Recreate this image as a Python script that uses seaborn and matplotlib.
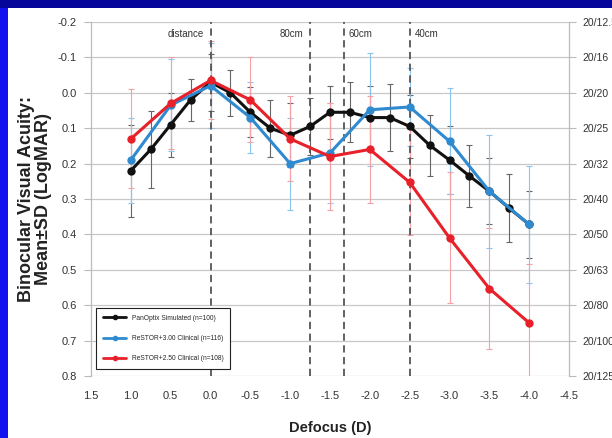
import matplotlib
matplotlib.use("Agg")
import matplotlib.pyplot as plt
import seaborn as sns
import pandas as pd
from matplotlib.patches import Rectangle
from matplotlib.lines import Line2D

# ---------------- data ----------------
black_x = [1.0, 0.75, 0.5, 0.25, 0.0, -0.25, -0.5, -0.75, -1.0, -1.25, -1.5,
           -1.75, -2.0, -2.25, -2.5, -2.75, -3.0, -3.25, -3.5, -3.75, -4.0]
black_y = [0.22, 0.16, 0.09, 0.02, -0.03, 0.00, 0.055, 0.10, 0.12, 0.095, 0.055,
           0.055, 0.07, 0.07, 0.095, 0.148, 0.19, 0.235, 0.278, 0.326, 0.372]
black_sd = [0.13, 0.11, 0.09, 0.06, 0.08, 0.065, 0.07, 0.08, 0.09, 0.08, 0.075,
            0.085, 0.09, 0.095, 0.09, 0.086, 0.095, 0.088, 0.093, 0.096, 0.094]

half_x = [1.0, 0.5, 0.0, -0.5, -1.0, -1.5, -2.0, -2.5, -3.0, -3.5, -4.0]
blue_y = [0.19, 0.035, -0.02, 0.07, 0.20, 0.17, 0.048, 0.04, 0.137, 0.278, 0.372]
blue_sd = [0.12, 0.13, 0.12, 0.10, 0.13, 0.14, 0.16, 0.11, 0.15, 0.16, 0.165]
red_y = [0.13, 0.03, -0.035, 0.02, 0.13, 0.18, 0.16, 0.253, 0.41, 0.553, 0.65]
red_sd = [0.14, 0.13, 0.11, 0.12, 0.12, 0.15, 0.15, 0.15, 0.185, 0.17, 0.165]

series_names = ["PanOptix Simulated (n=100)",
                "ReSTOR+3.00 Clinical (n=116)",
                "ReSTOR+2.50 Clinical (n=108)"]
series_colors = ["#111111", "#2f8ad0", "#e8202a"]
bar_colors = ["#666666", "#8cc4ee", "#f4a0a4"]

x_ticks = [1.5, 1.0, 0.5, 0.0, -0.5, -1.0, -1.5, -2.0, -2.5, -3.0, -3.5, -4.0, -4.5]
y_ticks = [-0.2, -0.1, 0.0, 0.1, 0.2, 0.3, 0.4, 0.5, 0.6, 0.7, 0.8]
snellen = ["20/12.5", "20/16", "20/20", "20/25", "20/32", "20/40", "20/50",
           "20/63", "20/80", "20/100", "20/125"]

ref_x = [0.0, -1.25, -1.67, -2.5]
ref_labels = ["distance", "80cm", "60cm", "40cm"]
ref_align = ["right", "right", "left", "left"]

# ---------------- frame ----------------
df = pd.concat([
    pd.DataFrame({"D": black_x, "VA": black_y, "SD": black_sd, "S": series_names[0]}),
    pd.DataFrame({"D": half_x, "VA": blue_y, "SD": blue_sd, "S": series_names[1]}),
    pd.DataFrame({"D": half_x, "VA": red_y, "SD": red_sd, "S": series_names[2]}),
], ignore_index=True)

sns.set_theme(style="white")
plt.rcParams["font.family"] = ["Liberation Sans", "DejaVu Sans"]
NARROW = ["Liberation Sans Narrow", "Liberation Sans", "DejaVu Sans"]

W, H = 612, 438
fig = plt.figure(figsize=(W / 100, H / 100), dpi=100)
fig.patch.set_facecolor("white")
# slide frame: bright blue left strip, navy top strip
fig.patches.append(Rectangle((0, 0), 8 / W, 1, transform=fig.transFigure,
                             facecolor="#1212f0", edgecolor="none", zorder=-10))
fig.patches.append(Rectangle((0, 1 - 8 / H), 1, 8 / H, transform=fig.transFigure,
                             facecolor="#06069a", edgecolor="none", zorder=-10))

L, R, T, B = 91, 569, 22, 376
ax = fig.add_axes([L / W, 1 - B / H, (R - L) / W, (B - T) / H])
ax.set_facecolor("white")

# error bars
for name, bc in zip(series_names, bar_colors):
    sub = df[df["S"] == name]
    ax.errorbar(sub["D"], sub["VA"], yerr=sub["SD"], fmt="none", ecolor=bc,
                elinewidth=0.8, capsize=2, capthick=0.8, zorder=2)

sns.lineplot(data=df, x="D", y="VA", hue="S", hue_order=series_names,
             palette=series_colors, marker="o", markersize=6, markeredgewidth=0,
             linewidth=2.2, sort=False, legend=False, ax=ax, zorder=4)

# reference lines
for xv in ref_x:
    ax.axvline(xv, color="#555555", linestyle=(0, (4, 2.5)), linewidth=1.3, zorder=3)
for xv, lab, ha in zip(ref_x, ref_labels, ref_align):
    ax.text(xv + (0.08 if ha == "right" else -0.06), -0.165, lab, ha=ha, va="center",
            fontsize=7, color="#333333", family=NARROW)

ax.set_xlim(1.5, -4.5)
ax.set_ylim(0.8, -0.2)
ax.set_xticks(x_ticks)
ax.set_xticklabels([f"{v:.1f}" for v in x_ticks])
ax.set_yticks(y_ticks)
ax.set_yticklabels([f"{v:.1f}" for v in y_ticks])
ax.yaxis.grid(True, color="#c8c8c8", linewidth=0.9)
ax.xaxis.grid(False)
for s in ["top", "bottom"]:
    ax.spines[s].set_visible(False)
for s in ["left", "right"]:
    ax.spines[s].set_color("#bbbbbb")
    ax.spines[s].set_linewidth(0.9)
ax.tick_params(axis="y", which="both", left=True, length=5, width=0.8,
               color="#bbbbbb", labelsize=8, labelcolor="#333333", pad=5)
ax.tick_params(axis="x", bottom=False, labelsize=8, labelcolor="#333333", pad=5)
for lab in ax.get_xticklabels() + ax.get_yticklabels():
    lab.set_family(NARROW)

ax.set_xlabel("Defocus (D)", fontsize=10.5, fontweight="bold", color="#222222",
              labelpad=14)
ax.set_ylabel("Binocular Visual Acuity:\nMean±SD (LogMAR)", fontsize=13,
              fontweight="bold", color="#222222", labelpad=4, linespacing=1.05)

# right axis
ax2 = ax.twinx()
ax2.set_ylim(0.8, -0.2)
ax2.set_yticks(y_ticks)
ax2.set_yticklabels(snellen)
ax2.grid(False)
for s in ["top", "bottom", "left", "right"]:
    ax2.spines[s].set_visible(False)
ax2.tick_params(axis="y", right=True, length=5, width=0.8, color="#bbbbbb",
                labelsize=7.5, labelcolor="#333333", pad=5)
for lab in ax2.get_yticklabels():
    lab.set_family(NARROW)

# legend
handles = [Line2D([0], [0], color=c, linewidth=2, marker="o", markersize=3)
           for c in series_colors]
leg = ax.legend(handles, series_names, loc="lower left", bbox_to_anchor=(0.004, 0.01),
                fontsize=4.8, frameon=True, fancybox=False, edgecolor="#222222",
                framealpha=1, handlelength=3.5, borderpad=1.0, labelspacing=2.0)
leg.get_frame().set_linewidth(0.8)

fig.savefig("out.png", dpi=100, facecolor=fig.get_facecolor())
